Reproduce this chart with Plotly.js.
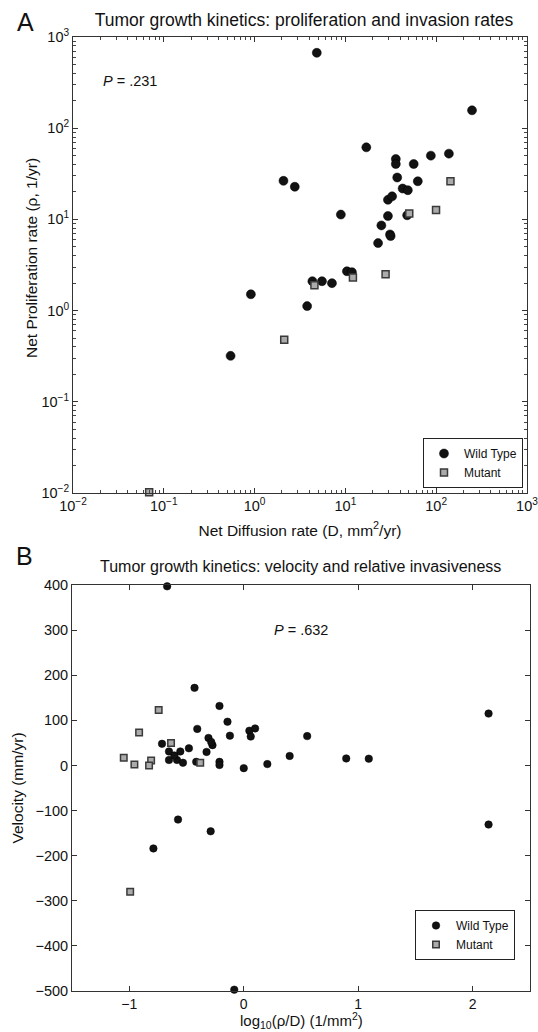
<!DOCTYPE html>
<html>
<head>
<meta charset="utf-8">
<script src="https://cdn.plot.ly/plotly-3.0.1.min.js"></script>
<style>html,body{margin:0;padding:0;background:#fff}#chart{width:538px;height:1032px}</style>
</head>
<body>
<div id="chart"></div>
<script>
// Panel A: Net diffusion rate D (mm^2/yr) vs net proliferation rate rho (1/yr)
const wtA_D   = [4.84, 248, 17.0, 35.9, 35.9, 56.5, 87.3, 138, 2.08, 2.77, 37.2, 42.7, 48.7, 62.7, 29.4, 32.7, 29.4, 24.9, 47.9, 8.91, 31.0, 31.5, 22.9, 10.4, 11.8, 4.33, 5.52, 7.11, 0.91, 3.79, 0.544];
const wtA_rho = [671, 157, 61.7, 45.9, 40.5, 40.5, 50.0, 52.6, 26.5, 22.8, 28.8, 21.8, 20.9, 26.2, 16.4, 17.9, 10.9, 8.59, 11.1, 11.3, 6.84, 6.56, 5.50, 2.70, 2.64, 2.10, 2.10, 2.00, 1.51, 1.12, 0.319];
const mutA_D   = [143.6, 50.5, 99.6, 12.1, 27.7, 4.56, 2.12, 0.069];
const mutA_rho = [26.2, 11.6, 12.7, 2.31, 2.51, 1.90, 0.48, 0.0102];

// Panel B: log10(rho/D) vs velocity (mm/yr)
const wtB_x = [-0.669, -0.43, -0.212, -0.142, -0.121, 0.049, 0.099, 0.061, 0.554, 0.401, 0.895, 1.092, 0.206, 0.0, 2.138, 2.138, -0.574, -0.289, -0.789, -0.083, -0.714, -0.653, -0.554, -0.479, -0.653, -0.583, -0.531, -0.606, -0.415, -0.406, -0.308, -0.273, -0.284, -0.325, -0.212, -0.212];
const wtB_v = [397, 172, 132, 97, 66, 77, 82, 64, 65, 21, 15.5, 15, 3, -6, 115, -131, -120, -146, -184, -497, 48, 31, 31, 38, 12, 12, 6, 22, 8, 81, 61, 45, 52, 30, 8, 1];
const mutB_x = [-0.743, -0.914, -0.635, -1.048, -0.955, -0.809, -0.827, -0.380, -0.992];
const mutB_v = [123, 73, 50, 17, 2, 11, 0, 6, -280];

// Tick labels
const logTickVals = [0.01, 0.1, 1, 10, 100, 1000];
const logTickText = ['10<sup>\u22122</sup>', '10<sup>\u22121</sup>', '10<sup>0</sup>', '10<sup>1</sup>', '10<sup>2</sup>', '10<sup>3</sup>'];
const bXTicks = [-1, 0, 1, 2];
const bYTicks = [-500, -400, -300, -200, -100, 0, 100, 200, 300, 400];

const minorLog = [];
for (let d = -2; d < 3; d++) for (let k = 2; k <= 9; k++) minorLog.push(k * Math.pow(10, d));

const FONT = 'Liberation Sans, Arial, Helvetica, sans-serif';
const INK = '#111';
const wtMarker = (s) => ({symbol: 'circle', size: s, color: '#121212', line: {color: '#000', width: 0.5}});
const mutMarker = (s) => ({symbol: 'square', size: s, color: '#ababab', line: {color: '#3a3a3a', width: 1.5}});

const traces = [
  {x: wtA_D, y: wtA_rho, type: 'scatter', mode: 'markers', name: 'Wild Type', marker: wtMarker(9), xaxis: 'x', yaxis: 'y', legend: 'legend', cliponaxis: false},
  {x: mutA_D, y: mutA_rho, type: 'scatter', mode: 'markers', name: 'Mutant', marker: mutMarker(7), xaxis: 'x', yaxis: 'y', legend: 'legend', cliponaxis: false},
  {x: wtB_x, y: wtB_v, type: 'scatter', mode: 'markers', name: 'Wild Type', marker: wtMarker(7.5), xaxis: 'x2', yaxis: 'y2', legend: 'legend2', cliponaxis: false},
  {x: mutB_x, y: mutB_v, type: 'scatter', mode: 'markers', name: 'Mutant', marker: mutMarker(6.5), xaxis: 'x2', yaxis: 'y2', legend: 'legend2', cliponaxis: false}
];

const axBase = {
  showline: true, linecolor: '#333', linewidth: 1, mirror: 'allticks',
  ticks: 'inside', ticklen: 5, tickcolor: '#333', showgrid: false, zeroline: false,
  automargin: false, ticklabeloverflow: 'allow',
  tickfont: {family: FONT, size: 14.5, color: INK}
};
const logMinor = {tickmode: 'array', tickvals: minorLog, ticks: 'inside', ticklen: 3, tickcolor: '#444', showgrid: false};
const axTitleFont = {family: FONT, size: 15.5, color: INK};

// plot area in px: left 72, right 530, top 37, bottom 991
const L = 72, R = 530, T = 37, B = 991;
const px = (x) => (x - L) / (R - L);
const py = (y) => (B - y) / (B - T);

const legendStyle = {bgcolor: '#fff', bordercolor: '#222', borderwidth: 1, font: {family: FONT, size: 12, color: INK},
                     itemwidth: 30, tracegroupgap: 0, itemsizing: 'trace', xref: 'paper', yref: 'paper', xanchor: 'right', yanchor: 'bottom'};

const layout = {
  width: 538, height: 1032,
  margin: {l: L, r: 538 - R, t: T, b: 1032 - B, autoexpand: false},
  paper_bgcolor: '#fff', plot_bgcolor: '#fff',
  font: {family: FONT, color: INK},
  showlegend: true,
  title: {text: 'Tumor growth kinetics: proliferation and invasion rates', font: {family: FONT, size: 17.5, color: INK},
          x: 304 / 538, xanchor: 'center', xref: 'container', y: 1 - 20 / 1032, yanchor: 'middle', yref: 'container'},
  xaxis: Object.assign({}, axBase, {
    domain: [px(73), px(527)], type: 'log', range: [-2, 3], anchor: 'y',
    tickmode: 'array', tickvals: logTickVals, ticktext: logTickText, minor: logMinor,
    title: {text: 'Net Diffusion rate (D, mm<sup>2</sup>/yr)', font: axTitleFont, standoff: 11}
  }),
  yaxis: Object.assign({}, axBase, {
    domain: [py(493), py(37)], type: 'log', range: [-2, 3], anchor: 'x',
    tickmode: 'array', tickvals: logTickVals, ticktext: logTickText, minor: logMinor,
    title: {text: '', font: axTitleFont}
  }),
  xaxis2: Object.assign({}, axBase, {
    domain: [px(72), px(530)], range: [-1.5, 2.5], anchor: 'y2',
    tickmode: 'array', tickvals: bXTicks, tickfont: {family: FONT, size: 14, color: INK},
    title: {text: '', font: axTitleFont}
  }),
  yaxis2: Object.assign({}, axBase, {
    domain: [py(991), py(585)], range: [-500, 400], anchor: 'x2',
    tickmode: 'array', tickvals: bYTicks,
    title: {text: 'Velocity (mm/yr)', font: axTitleFont, standoff: 8}
  }),
  legend: Object.assign({}, legendStyle, {x: px(523), y: py(488)}),
  legend2: Object.assign({}, legendStyle, {x: px(515), y: py(960)}),
  annotations: [
    {text: 'A', x: px(25), y: py(22), xref: 'paper', yref: 'paper', showarrow: false, xanchor: 'center', yanchor: 'middle', font: {family: FONT, size: 25, color: INK}},
    {text: 'B', x: px(24), y: py(556), xref: 'paper', yref: 'paper', showarrow: false, xanchor: 'center', yanchor: 'middle', font: {family: FONT, size: 25, color: INK}},
    {text: 'Tumor growth kinetics: velocity and relative invasiveness', x: px(300), y: py(566), xref: 'paper', yref: 'paper', showarrow: false, xanchor: 'center', yanchor: 'middle', font: {family: FONT, size: 16, color: INK}},
    {text: 'Net Proliferation rate (\u03c1, 1/yr)', x: px(31), y: py(258), xref: 'paper', yref: 'paper', showarrow: false, textangle: -90, xanchor: 'center', yanchor: 'middle', font: axTitleFont},
    {text: 'log<sub>10</sub>(\u03c1/D) (1/mm<sup>2</sup>)', x: px(301), y: py(1032), xref: 'paper', yref: 'paper', showarrow: false, xanchor: 'center', yanchor: 'bottom', borderpad: 0, font: {family: FONT, size: 15, color: INK}},
    {text: '<i>P</i> = .231', x: px(130), y: py(81), xref: 'paper', yref: 'paper', showarrow: false, xanchor: 'center', yanchor: 'middle', font: {family: FONT, size: 14.5, color: INK}},
    {text: '<i>P</i> = .632', x: px(301), y: py(630), xref: 'paper', yref: 'paper', showarrow: false, xanchor: 'center', yanchor: 'middle', font: {family: FONT, size: 14.5, color: INK}}
  ]
};

Plotly.newPlot('chart', traces, layout, {staticPlot: true, displayModeBar: false});
</script>
</body>
</html>
